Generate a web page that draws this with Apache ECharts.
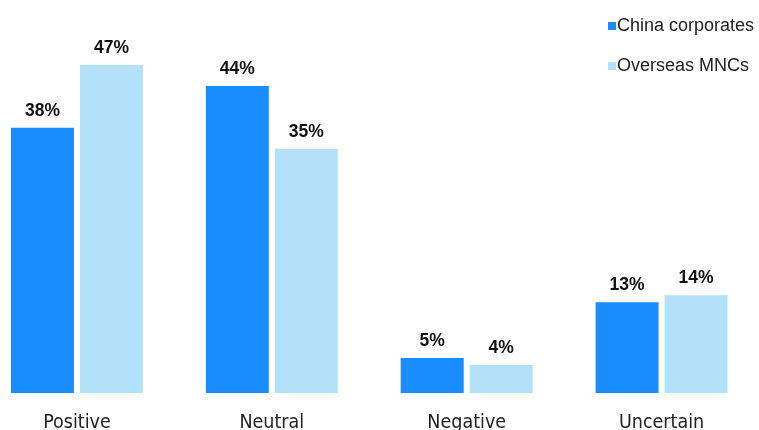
<!DOCTYPE html>
<html>
<head>
<meta charset="utf-8">
<script src="https://cdn.jsdelivr.net/npm/echarts@6/dist/echarts.min.js"></script>
<style>
  html, body { margin: 0; padding: 0; background: #fff; overflow: hidden; }
  /* The plot extends past the left edge of the page, so the first category is partly clipped */
  #chart { width: 780px; height: 430px; margin-left: -21px; }
</style>
</head>
<body>
<div id="chart"></div>
<script>
// Survey outlook by respondent group (share of respondents, %)
const categories = ['Positive', 'Neutral', 'Negative', 'Uncertain'];
const chinaCorporates = [38, 44, 5, 13];
const overseasMNCs = [47, 35, 4, 14];
const seriesNames = ['China corporates', 'Overseas MNCs'];

const chart = echarts.init(document.getElementById('chart'), null, { renderer: 'canvas' });

const valueLabel = {
  show: true,
  position: 'top',
  distance: 8,
  formatter: p => p.value + '%',
  color: '#111',
  fontFamily: 'Liberation Sans',
  fontWeight: 'bold',
  fontSize: 17.5
};

chart.setOption({
  animation: false,
  backgroundColor: '#ffffff',
  legend: {
    orient: 'vertical',
    left: 624,
    top: 12,
    itemWidth: 8,
    itemHeight: 8,
    itemGap: 22,
    icon: 'rect',
    textStyle: {
      fontFamily: 'Liberation Sans',
      fontSize: 18,
      color: '#222',
      padding: [0, 0, 0, -4]
    },
    data: seriesNames
  },
  grid: {
    left: 0.5,
    right: 0,
    top: 44,
    bottom: 37,
    containLabel: false,
    outerBoundsMode: 'none'
  },
  xAxis: {
    type: 'category',
    data: categories,
    axisLine: { show: false },
    axisTick: { show: false },
    axisLabel: {
      margin: 20,
      fontFamily: '"DejaVu Sans Condensed", "Liberation Sans", sans-serif',
      fontSize: 19.5,
      color: '#222'
    }
  },
  yAxis: {
    type: 'value',
    min: 0,
    max: 50,
    show: false,
    splitLine: { show: false }
  },
  series: [
    {
      name: seriesNames[0],
      type: 'bar',
      data: chinaCorporates,
      barWidth: 63,
      barGap: '9.5%',
      itemStyle: { color: '#1a8cff' },
      label: valueLabel
    },
    {
      name: seriesNames[1],
      type: 'bar',
      data: overseasMNCs,
      barWidth: 63,
      barGap: '9.5%',
      itemStyle: { color: '#b3e1fa' },
      label: valueLabel
    }
  ]
});
</script>
</body>
</html>
